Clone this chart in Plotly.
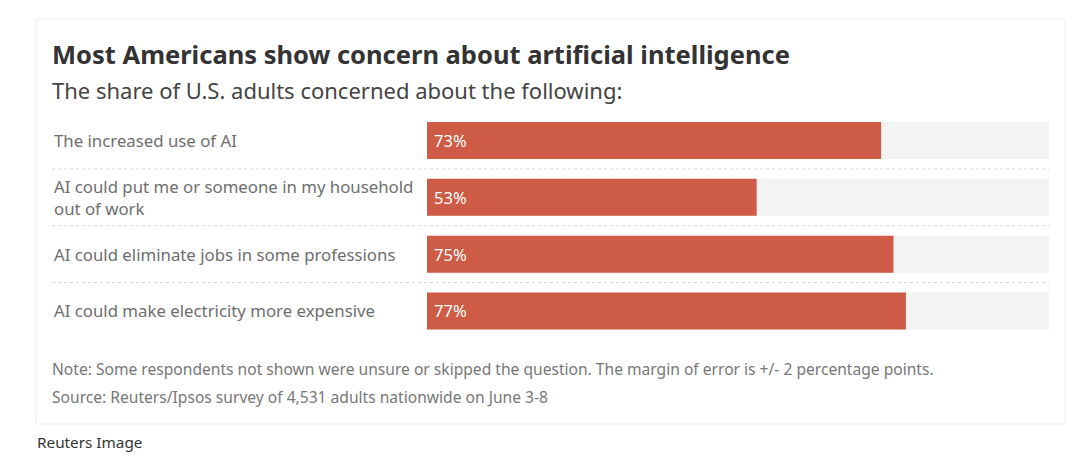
import plotly.graph_objects as go

W, H = 1080, 469
OFF = 8  # page body margin offset

categories = [
    "The increased use of AI",
    "AI could put me or someone in my household<br>out of work",
    "AI could eliminate jobs in some professions",
    "AI could make electricity more expensive",
]
values = [73, 53, 75, 77]
full_scale = [100, 100, 100, 100]
value_labels = ["73%", "53%", "75%", "77%"]

title = "<b>Most Americans show concern about artificial intelligence</b>"
subtitle = "The share of U.S. adults concerned about the following:"
note = "Note: Some respondents not shown were unsure or skipped the question. The margin of error is +/- 2 percentage points."
source = "Source: Reuters/Ipsos survey of 4,531 adults nationwide on June 3-8"
credit = "Reuters Image"

FONT = "Noto Sans"
BAR = "#CD5B45"
BG = "#F3F3F4"
LABEL = "#6E6E6E"

def px_x(p):
    return (p - OFF) / W

def px_y(p):
    return 1 - (p - OFF) / H

ids = list(range(len(categories)))

fig = go.Figure()
fig.add_trace(go.Bar(
    x=full_scale, y=ids, orientation="h", marker=dict(color=BG, line=dict(width=0)),
    hoverinfo="skip", showlegend=False,
))
fig.add_trace(go.Bar(
    x=values, y=ids, orientation="h", marker=dict(color=BAR, line=dict(width=0)),
    showlegend=False,
))

annotations = []
for i, c in enumerate(categories):
    annotations.append(dict(
        x=px_x(52), xref="paper", xanchor="left", y=i, yref="y", yanchor="middle",
        text=c, showarrow=False, align="left",
        font=dict(family=FONT, size=16.8, color=LABEL),
    ))
for i, t in enumerate(value_labels):
    annotations.append(dict(
        x=0, xref="x", xanchor="left", xshift=5, y=i, yref="y", yanchor="middle",
        text=t, showarrow=False, font=dict(family=FONT, size=16.5, color="white"),
    ))

annotations += [
    dict(x=px_x(50), xref="paper", xanchor="left", y=px_y(54), yref="paper", yanchor="middle",
         text=title, showarrow=False, font=dict(family=FONT, size=25.5, color="#333333")),
    dict(x=px_x(50), xref="paper", xanchor="left", y=px_y(90), yref="paper", yanchor="middle",
         text=subtitle, showarrow=False, font=dict(family=FONT, size=22, color="#444444")),
    dict(x=px_x(50), xref="paper", xanchor="left", y=px_y(369), yref="paper", yanchor="middle",
         text=note, showarrow=False, font=dict(family=FONT, size=15.6, color="#777777")),
    dict(x=px_x(50), xref="paper", xanchor="left", y=px_y(397), yref="paper", yanchor="middle",
         text=source, showarrow=False, font=dict(family=FONT, size=15.6, color="#777777")),
    dict(x=px_x(35), xref="paper", xanchor="left", y=px_y(442), yref="paper", yanchor="middle",
         text=credit, showarrow=False, font=dict(family=FONT, size=15.3, color="#333333")),
]

shapes = [
    dict(type="rect", xref="paper", yref="paper", x0=px_x(36), x1=px_x(1065), y0=px_y(424), y1=px_y(19),
         line=dict(color="#EEEEEE", width=1), fillcolor="white", layer="below"),
]
for b in [0.5, 1.5, 2.5]:
    shapes.append(dict(type="line", xref="paper", yref="y", x0=px_x(52), x1=px_x(1049), y0=b, y1=b,
                       line=dict(color="#D5D5D5", width=1, dash="dot"), layer="above"))

fig.update_layout(
    width=W, height=H,
    margin=dict(l=0, r=0, t=0, b=0),
    paper_bgcolor="white", plot_bgcolor="rgba(0,0,0,0)",
    barmode="overlay", bargap=0.35,
    xaxis=dict(domain=[px_x(427), px_x(1049)], range=[0, 100], visible=False, fixedrange=True),
    yaxis=dict(domain=[px_y(339.4), px_y(112.1)], range=[3.5, -0.5], visible=False, fixedrange=True),
    annotations=annotations, shapes=shapes,
    font=dict(family=FONT),
)

fig.write_html("out.html", config=dict(displayModeBar=False))
